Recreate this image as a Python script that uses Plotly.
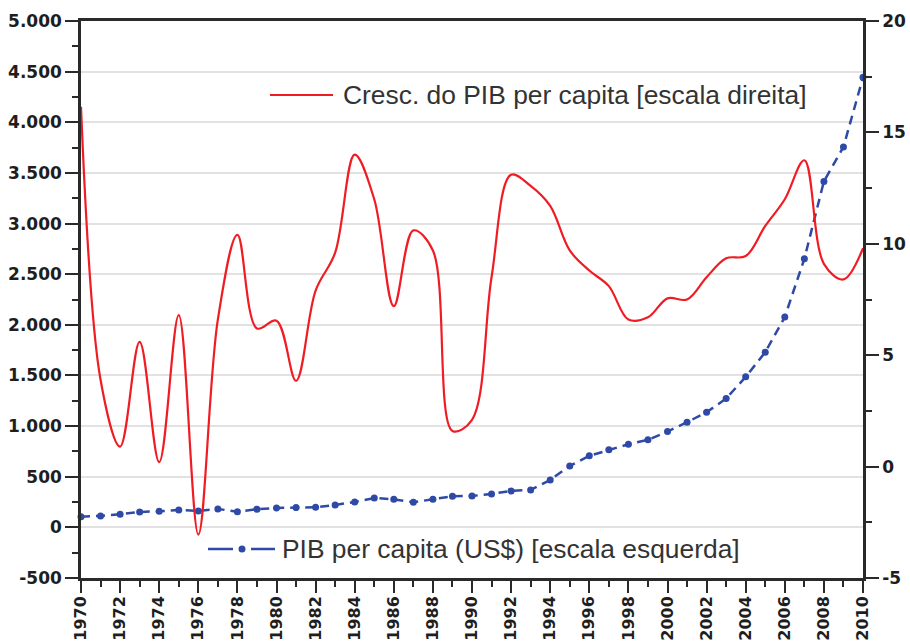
import plotly.graph_objects as go

# ---- data ----
years = list(range(1970, 2011))

# GDP per capita growth (%), right scale
growth = [16.15, 3.9, 0.9, 5.6, 0.2, 6.8, -3.05, 6.6, 10.4, 6.2,
          6.55, 3.85, 7.9, 9.6, 14.0, 12.0, 7.2, 10.6, 9.7, 1.6,
          2.1, 8.5, 13.1, 12.6, 11.7, 9.7, 8.8, 8.1, 6.6, 6.7,
          7.55, 7.5, 8.5, 9.35, 9.45, 10.8, 12.0, 13.75, 9.1, 8.4,
          9.8]

# GDP per capita (US$), left scale
gdp_pc = [106, 113, 129, 152, 159, 172, 162, 182, 155, 179,
          192, 195, 199, 221, 251, 290, 277, 248, 277, 307,
          310, 330, 360, 370, 468, 607, 706, 767, 821, 864,
          946, 1038, 1137, 1272, 1486, 1730, 2077, 2652, 3416, 3756,
          4444]

left_tickvals = [-500, 0, 500, 1000, 1500, 2000, 2500, 3000, 3500, 4000, 4500, 5000]
left_ticktext = ["-500", "0", "500", "1.000", "1.500", "2.000", "2.500",
                 "3.000", "3.500", "4.000", "4.500", "5.000"]
right_tickvals = [-5, 0, 5, 10, 15, 20]
right_ticktext = ["-5", "0", "5", "10", "15", "20"]

label_growth = "Cresc. do PIB per capita [escala direita]"
label_gdp = "PIB per capita (US$) [escala esquerda]"

RED = "#f01c24"
BLUE = "#2f4aa6"
AXIS = "#2a2a2a"
GRID = "#e2e2e2"
TICKFONT = dict(family="DejaVu Sans", size=17, color="#1e1e1e", weight="bold")
XTICKFONT = dict(family="DejaVu Sans", size=16, color="#1e1e1e", weight="bold")
LEGFONT = dict(family="Liberation Sans", size=26.4, color="#333333")

fig = go.Figure()
fig.add_trace(go.Scatter(
    x=years, y=growth, yaxis="y2", mode="lines",
    line=dict(color=RED, width=2.2, shape="spline", smoothing=1.0),
    showlegend=False, cliponaxis=False, name=label_growth))
fig.add_trace(go.Scatter(
    x=years, y=gdp_pc, yaxis="y", mode="lines+markers",
    line=dict(color=BLUE, width=2.5, dash="9px,6px"),
    marker=dict(size=7, color=BLUE),
    showlegend=False, cliponaxis=False, name=label_gdp))

# plot area in pixels: x 81..863, y 21..578
def px(x):
    return (x - 81) / 782.0

def py(y):
    return (578 - y) / 557.0

shapes = [
    # legend 1 symbol
    dict(type="line", xref="paper", yref="paper", x0=px(270), x1=px(333),
         y0=py(95), y1=py(95), line=dict(color=RED, width=2.2)),
    # legend 2 symbol
    dict(type="line", xref="paper", yref="paper", x0=px(208), x1=px(233),
         y0=py(549), y1=py(549), line=dict(color=BLUE, width=2.5)),
    dict(type="line", xref="paper", yref="paper", x0=px(251), x1=px(275),
         y0=py(549), y1=py(549), line=dict(color=BLUE, width=2.5)),
    dict(type="circle", xref="paper", yref="paper", xsizemode="pixel", ysizemode="pixel",
         xanchor=px(242), yanchor=py(549), x0=-3.5, x1=3.5, y0=-3.5, y1=3.5,
         fillcolor=BLUE, line=dict(color=BLUE, width=0)),
]

annotations = [
    dict(text=label_growth, xref="paper", yref="paper", x=px(341), y=py(95),
         xanchor="left", yanchor="middle", showarrow=False, font=LEGFONT),
    dict(text=label_gdp, xref="paper", yref="paper", x=px(280), y=py(549),
         xanchor="left", yanchor="middle", showarrow=False, font=LEGFONT),
]

fig.update_layout(
    width=910, height=642,
    margin=dict(l=81, r=47, t=21, b=64, autoexpand=False),
    paper_bgcolor="white", plot_bgcolor="white",
    showlegend=False,
    shapes=shapes, annotations=annotations,
    xaxis=dict(
        range=[1970, 2010], tickmode="linear", tick0=1970, dtick=2,
        ticks="outside", ticklen=12, tickwidth=2, tickcolor=AXIS,
        showline=True, linewidth=2.5, linecolor=AXIS, mirror=True,
        tickangle=-90, tickfont=XTICKFONT, showgrid=False, zeroline=False,
        automargin=False, ticklabelstandoff=-3,
        minor=dict(tickmode="linear", tick0=1970, dtick=1, ticks="outside",
                   ticklen=6, tickwidth=2, tickcolor=AXIS, showgrid=False),
    ),
    yaxis=dict(
        range=[-500, 5000], tickmode="array", tickvals=left_tickvals,
        ticktext=left_ticktext, ticks="outside", ticklen=13, tickwidth=2,
        tickcolor=AXIS, showline=True, linewidth=2.5, linecolor=AXIS,
        showgrid=True, gridcolor=GRID, gridwidth=1.6, zeroline=False,
        tickfont=TICKFONT, automargin=False,
        minor=dict(tickmode="linear", tick0=0, dtick=250, ticks="outside",
                   ticklen=6, tickwidth=2, tickcolor=AXIS, showgrid=False),
    ),
    yaxis2=dict(
        range=[-5, 20], overlaying="y", side="right", anchor="x",
        tickmode="array", tickvals=right_tickvals, ticktext=right_ticktext,
        ticks="outside", ticklen=13, tickwidth=2, tickcolor=AXIS,
        showline=True, linewidth=2.5, linecolor=AXIS,
        showgrid=False, zeroline=False, tickfont=TICKFONT, automargin=False,
        minor=dict(tickmode="linear", tick0=0, dtick=2.5, ticks="outside",
                   ticklen=6, tickwidth=2, tickcolor=AXIS, showgrid=False),
    ),
)

fig.write_html(
    "out.html",
    config={"displayModeBar": False},
    post_script="document.body.style.margin='0px';document.body.style.overflow='hidden';",
)
